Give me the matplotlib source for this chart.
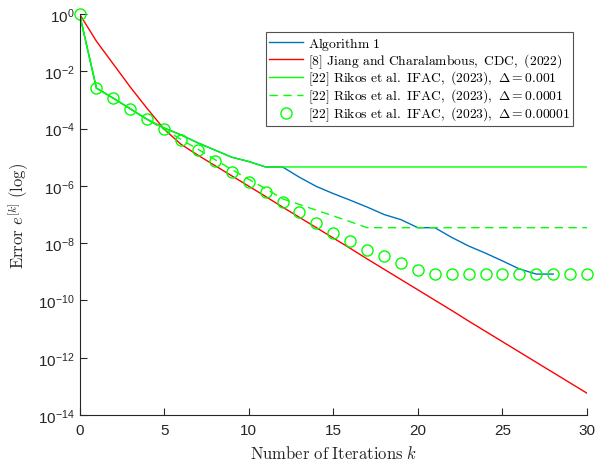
import numpy as np
import matplotlib
matplotlib.use("Agg")
import matplotlib.pyplot as plt

plt.rcParams['mathtext.fontset'] = 'cm'
plt.rcParams['font.family'] = ['Liberation Sans', 'DejaVu Sans']

k = list(range(31))

# log10 of the error
alg1_log = [0.0, -2.59, -2.94, -3.31, -3.68, -3.98, -4.22, -4.5, -4.75, -5.0,
            -5.15, -5.34, -5.34, -5.7, -6.02, -6.27, -6.5, -6.74, -7.0, -7.18,
            -7.46, -7.46, -7.8, -8.1, -8.35, -8.62, -8.9, -9.08, -9.08]
jiang_log = [0.0, -0.95, -1.75, -2.55, -3.3, -4.02, -4.55, -4.93, -5.29, -5.65,
             -6.01, -6.37, -6.74, -7.1, -7.46, -7.82, -8.18, -8.55, -8.91, -9.27,
             -9.63, -9.99, -10.35, -10.72, -11.08, -11.44, -11.8, -12.16, -12.52,
             -12.88, -13.24]
rikos3_log = [0.0, -2.59, -2.94, -3.31, -3.68, -3.98, -4.22, -4.5, -4.75, -5.0,
              -5.15, -5.34, -5.34, -5.34, -5.34, -5.34, -5.34, -5.34, -5.34, -5.34,
              -5.34, -5.34, -5.34, -5.34, -5.34, -5.34, -5.34, -5.34, -5.34, -5.34,
              -5.34]
rikos4_log = [0.0, -2.59, -2.94, -3.31, -3.68, -4.03, -4.38, -4.72, -5.08, -5.43,
              -5.77, -6.1, -6.45, -6.65, -6.85, -7.05, -7.25, -7.46, -7.46, -7.46,
              -7.46, -7.46, -7.46, -7.46, -7.46, -7.46, -7.46, -7.46, -7.46, -7.46,
              -7.46]
rikos5_log = [0.0, -2.59, -2.94, -3.31, -3.68, -4.03, -4.41, -4.76, -5.13, -5.52,
              -5.87, -6.21, -6.55, -6.91, -7.28, -7.64, -7.92, -8.25, -8.46, -8.69,
              -8.92, -9.08, -9.08, -9.08, -9.08, -9.08, -9.08, -9.08, -9.08, -9.08,
              -9.08]

labels = [r'$\mathrm{Algorithm\ 1}$',
          r'$\mathrm{[8]\ Jiang\ and\ Charalambous,\ CDC,\ (2022)}$',
          r'$\mathrm{[22]\ Rikos\ et\ al.\ IFAC,\ (2023),}\ \Delta = 0.001$',
          r'$\mathrm{[22]\ Rikos\ et\ al.\ IFAC,\ (2023),}\ \Delta = 0.0001$',
          r'$\mathrm{[22]\ Rikos\ et\ al.\ IFAC,\ (2023),}\ \Delta = 0.00001$']

fig = plt.figure(figsize=(5.96, 4.64), dpi=100)
ax = fig.add_axes([0.1334, 0.1034, 0.8516, 0.8643])

blue = '#0072BD'
ax.plot(k[:len(alg1_log)], 10.0 ** np.array(alg1_log), color=blue, lw=1.0, label=labels[0])
ax.plot(k, 10.0 ** np.array(jiang_log), color='#FF0000', lw=1.0, label=labels[1])
ax.plot(k, 10.0 ** np.array(rikos3_log), color='#00FF00', lw=1.0, label=labels[2])
ax.plot(k, 10.0 ** np.array(rikos4_log), color='#00FF00', lw=1.0, ls=(0, (6, 4)), label=labels[3])
ax.plot(k, 10.0 ** np.array(rikos5_log), ls='none', marker='o', ms=8, mfc='none',
        mec='#00FF00', mew=1.0, label=labels[4], clip_on=False)

ax.set_yscale('log')
ax.set_xlim(0, 30)
ax.set_ylim(1e-14, 1e0)
ax.set_xticks([0, 5, 10, 15, 20, 25, 30])
ax.set_yticks([10.0 ** e for e in range(-14, 1, 2)])
ax.yaxis.set_minor_locator(matplotlib.ticker.NullLocator())
ax.set_yticklabels([r'$\mathregular{10^{%d}}$' % e for e in range(-14, 1, 2)])

for s in ['top', 'right']:
    ax.spines[s].set_visible(False)
for s in ['left', 'bottom']:
    ax.spines[s].set_color('#262626')
    ax.spines[s].set_linewidth(0.8)
ax.tick_params(direction='in', length=5, width=0.8, colors='#262626', labelsize=11)
ax.tick_params(axis='x', pad=6)

ax.set_xlabel(r'$\mathrm{Number\ of\ Iterations}\ k$', fontsize=12, labelpad=5, color='#262626')
ax.set_ylabel(r'$\mathrm{Error}\ e^{[k]}\ \mathrm{(log)}$', fontsize=12, labelpad=5, color='#262626')

leg = ax.legend(loc='upper right', bbox_to_anchor=(0.972, 0.955), fontsize=9.8,
                frameon=True, fancybox=False, handlelength=2.5, borderpad=0.2,
                labelspacing=-0.05, handletextpad=0.35, borderaxespad=0)
leg.get_frame().set_edgecolor('#262626')
leg.get_frame().set_linewidth(0.8)

fig.savefig('out.png', dpi=100)
